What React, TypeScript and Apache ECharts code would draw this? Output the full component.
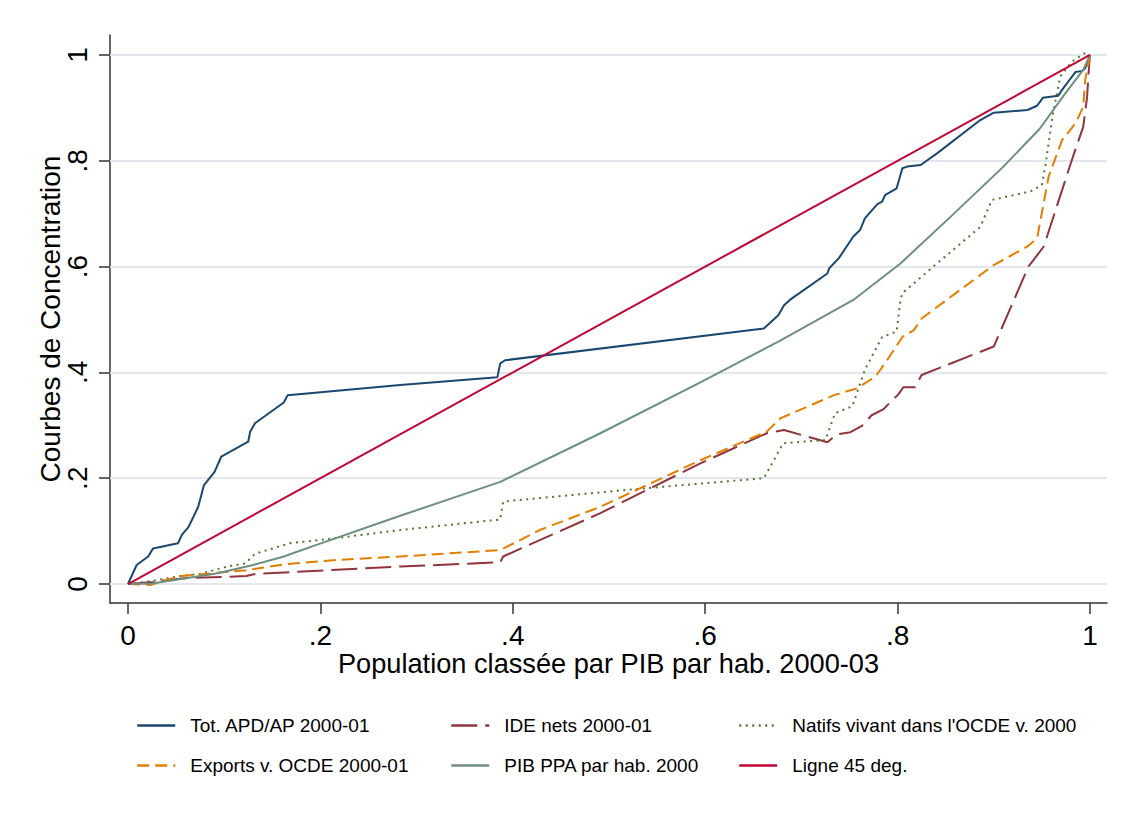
import React, { useEffect, useRef } from "react";
import * as echarts from "echarts";

const TICKS = [0, 0.2, 0.4, 0.6, 0.8, 1];
const TICK_LABELS = ["0", ".2", ".4", ".6", ".8", "1"];

const X_TITLE = "Population classée par PIB par hab. 2000-03";
const Y_TITLE = "Courbes de Concentration";

const NAMES = [
  "Tot. APD/AP 2000-01",
  "IDE nets 2000-01",
  "Natifs vivant dans l'OCDE v. 2000",
  "Exports v. OCDE 2000-01",
  "PIB PPA par hab. 2000",
  "Ligne 45 deg.",
];

const apd = [
  [0, 0], [0.009, 0.036], [0.021, 0.052], [0.026, 0.067], [0.052, 0.077], [0.056, 0.093],
  [0.063, 0.108], [0.073, 0.146], [0.079, 0.187], [0.09, 0.212], [0.097, 0.241], [0.125, 0.269],
  [0.127, 0.288], [0.132, 0.304], [0.162, 0.343], [0.166, 0.357], [0.283, 0.376], [0.384, 0.391],
  [0.387, 0.417], [0.392, 0.423], [0.661, 0.483], [0.676, 0.508], [0.682, 0.527], [0.688, 0.537],
  [0.727, 0.587], [0.729, 0.597], [0.739, 0.616], [0.754, 0.657], [0.761, 0.669], [0.766, 0.691],
  [0.779, 0.718], [0.784, 0.723], [0.787, 0.735], [0.799, 0.748], [0.805, 0.786], [0.81, 0.789],
  [0.824, 0.792], [0.841, 0.814], [0.886, 0.877], [0.9, 0.891], [0.935, 0.896], [0.945, 0.904],
  [0.951, 0.919], [0.967, 0.923], [0.971, 0.934], [0.98, 0.956], [0.985, 0.968], [0.992, 0.97],
  [0.995, 0.975], [1, 1],
];

const ide = [
  [0, 0], [0.026, 0.004], [0.058, 0.011], [0.123, 0.015], [0.132, 0.019], [0.283, 0.033],
  [0.387, 0.041], [0.39, 0.052], [0.491, 0.134], [0.595, 0.228], [0.664, 0.285], [0.682, 0.291],
  [0.727, 0.268], [0.737, 0.283], [0.751, 0.287], [0.763, 0.299], [0.773, 0.319], [0.785, 0.33],
  [0.801, 0.359], [0.806, 0.372], [0.818, 0.372], [0.825, 0.395], [0.9, 0.449], [0.921, 0.537],
  [0.936, 0.6], [0.952, 0.638], [0.98, 0.795], [0.987, 0.833], [0.993, 0.864], [0.997, 0.921],
  [0.999, 0.978], [1, 1],
];

const natifs = [
  [0, 0], [0.026, 0.006], [0.054, 0.015], [0.075, 0.019], [0.103, 0.033], [0.122, 0.039],
  [0.132, 0.057], [0.168, 0.077], [0.213, 0.086], [0.283, 0.102], [0.387, 0.122], [0.39, 0.156],
  [0.525, 0.179], [0.661, 0.2], [0.681, 0.266], [0.725, 0.272], [0.735, 0.323], [0.753, 0.336],
  [0.766, 0.405], [0.784, 0.467], [0.799, 0.477], [0.803, 0.537], [0.805, 0.55], [0.841, 0.606],
  [0.886, 0.675], [0.898, 0.726], [0.938, 0.742], [0.95, 0.754], [0.954, 0.795], [0.961, 0.883],
  [0.969, 0.959], [0.981, 0.987], [0.994, 1.003], [1, 1],
];

const exportsOcde = [
  [0, 0], [0.023, -0.002], [0.054, 0.015], [0.123, 0.026], [0.162, 0.037], [0.213, 0.045],
  [0.283, 0.052], [0.387, 0.064], [0.428, 0.102], [0.491, 0.146], [0.595, 0.234], [0.664, 0.288],
  [0.678, 0.313], [0.734, 0.357], [0.758, 0.37], [0.777, 0.392], [0.789, 0.423], [0.805, 0.467],
  [0.817, 0.48], [0.825, 0.502], [0.851, 0.537], [0.9, 0.603], [0.935, 0.638], [0.945, 0.653],
  [0.957, 0.77], [0.971, 0.839], [0.985, 0.871], [0.993, 0.902], [0.995, 0.953], [1, 1],
];

const pib = [
  [0, 0], [0.025, 0.001], [0.092, 0.02], [0.13, 0.036], [0.162, 0.052], [0.196, 0.074],
  [0.283, 0.129], [0.387, 0.193], [0.491, 0.285], [0.595, 0.381], [0.678, 0.46], [0.754, 0.537],
  [0.803, 0.606], [0.855, 0.694], [0.91, 0.789], [0.948, 0.861], [0.973, 0.924], [0.993, 0.972],
  [1, 1],
];

const diag = [[0, 0], [1, 1]];

const COLORS = ["#1a476f", "#90353b", "#55752f", "#e37e00", "#6e8e84", "#c10534"];

const FONT = "'Liberation Sans', Arial, Helvetica, sans-serif";

export default function App() {
  const ref = useRef<HTMLDivElement>(null);
  useEffect(() => {
    if (!ref.current) return;
    const chart = echarts.init(ref.current, null, { renderer: "svg" });
    const fmt = (v: number) => {
      const i = TICKS.findIndex((t) => Math.abs(t - v) < 1e-6);
      return i >= 0 ? TICK_LABELS[i] : "";
    };
    const lineSeries = (name: string, data: number[][], color: string, type: any) => ({
      name,
      type: "line",
      data,
      symbol: "none",
      showSymbol: false,
      z: 3,
      lineStyle: { color, width: 2, type, cap: "butt" },
      itemStyle: { color },
      emphasis: { disabled: true },
    });
    const legendCommon = {
      orient: "vertical",
      top: 711,
      itemWidth: 38,
      itemHeight: 14,
      itemGap: 21,
      selectedMode: false,
      itemStyle: { opacity: 0, borderWidth: 0 },
      lineStyle: { width: 2.5 },
      textStyle: { fontFamily: FONT, fontSize: 19, color: "#000", padding: [0, 0, 0, 10] },
    };
    chart.setOption({
      animation: false,
      backgroundColor: "#fff",
      textStyle: { fontFamily: FONT },
      grid: { left: 110, top: 35, right: 20, bottom: 211, containLabel: false },
      xAxis: {
        type: "value",
        min: -0.0187,
        max: 1.0177,
        name: X_TITLE,
        nameLocation: "middle",
        nameGap: 47,
        nameMoveOverlap: false,
        nameTextStyle: { fontFamily: FONT, fontSize: 27.2, color: "#000" },
        axisLine: { show: true, onZero: false, lineStyle: { color: "#333", width: 1.5 } },
        axisTick: { show: true, length: 11, customValues: TICKS, lineStyle: { color: "#333", width: 1.5 } },
        axisLabel: { customValues: TICKS, formatter: fmt, margin: 18, fontFamily: FONT, fontSize: 28, color: "#000" },
        splitLine: { show: false },
      },
      yAxis: {
        type: "value",
        min: -0.0359,
        max: 1.0378,
        name: Y_TITLE,
        nameLocation: "middle",
        nameGap: 46,
        nameMoveOverlap: false,
        nameTextStyle: { fontFamily: FONT, fontSize: 28, color: "#000" },
        axisLine: { show: true, onZero: false, lineStyle: { color: "#333", width: 1.5 } },
        axisTick: { show: true, length: 11, customValues: TICKS, lineStyle: { color: "#333", width: 1.5 } },
        axisLabel: { customValues: TICKS, formatter: fmt, rotate: 90, margin: 19, fontFamily: FONT, fontSize: 28, color: "#000" },
        splitLine: { show: false },
      },
      legend: [
        { ...legendCommon, left: 131, data: [NAMES[0], NAMES[3]] },
        { ...legendCommon, left: 445, data: [NAMES[1], NAMES[4]] },
        { ...legendCommon, left: 733, data: [NAMES[2], NAMES[5]] },
      ],
      series: [
        {
          name: "grid",
          type: "line",
          data: [],
          silent: true,
          markLine: {
            z: 1,
            silent: true,
            symbol: ["none", "none"],
            label: { show: false },
            lineStyle: { color: "#e1e6ef", width: 2, type: "solid" },
            emphasis: { disabled: true },
            data: TICKS.map((t) => ({ yAxis: t })),
          },
        },
        lineSeries(NAMES[0], apd, COLORS[0], "solid"),
        lineSeries(NAMES[1], ide, COLORS[1], [26, 8]),
        lineSeries(NAMES[2], natifs, COLORS[2], [2, 4.5]),
        lineSeries(NAMES[3], exportsOcde, COLORS[3], [12, 6]),
        lineSeries(NAMES[4], pib, COLORS[4], "solid"),
        lineSeries(NAMES[5], diag, COLORS[5], "solid"),
      ],
    });
    return () => chart.dispose();
  }, []);
  return (
    <div
      ref={ref}
      style={{ position: "absolute", left: 0, top: 0, width: 1127, height: 814, background: "#fff" }}
    />
  );
}
